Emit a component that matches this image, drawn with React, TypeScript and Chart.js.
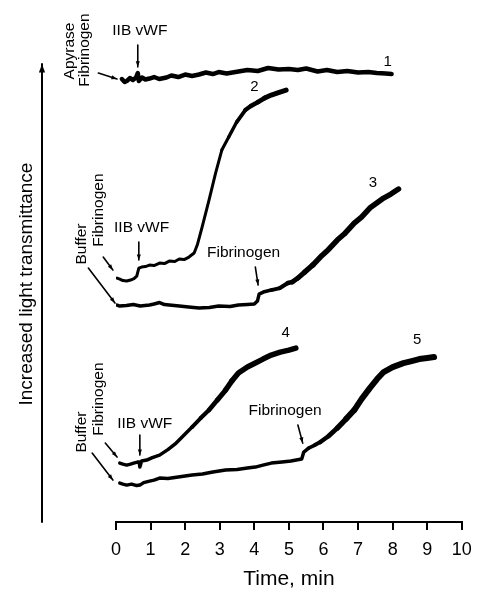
import React, { useEffect, useRef } from "react";
import { Chart, registerables } from "chart.js";

Chart.register(...registerables);

const FONT = '"Liberation Sans", Arial, Helvetica, sans-serif';

// Time (min) axis ticks
const xTicks = [0, 1, 2, 3, 4, 5, 6, 7, 8, 9, 10];

// Trace 1 : Apyrase + Fibrinogen, then IIB vWF
const t1 = [0.17, 0.25, 0.31, 0.4, 0.49, 0.58, 0.63, 0.66, 0.75, 0.85, 0.97, 1.1, 1.25, 1.46, 1.6, 1.8, 2.0, 2.2, 2.4, 2.6, 2.8, 2.97, 3.2, 3.54, 3.8, 4.1, 4.4, 4.7, 5.0, 5.26, 5.5, 5.83, 6.1, 6.4, 6.69, 7.0, 7.3, 7.54, 7.8, 7.97];
const y1 = [88.6, 88.0, 88.2, 88.8, 88.4, 88.9, 89.8, 88.2, 88.9, 88.5, 88.7, 89.0, 88.6, 88.9, 89.3, 89.0, 89.5, 89.2, 89.5, 89.9, 89.6, 90.0, 89.7, 90.1, 90.4, 90.2, 90.8, 90.5, 90.6, 90.4, 90.7, 90.1, 90.4, 90.0, 90.2, 89.9, 90.0, 89.8, 89.7, 89.6];

// Trace 2 : Buffer + Fibrinogen, then IIB vWF
const t2 = [0.03, 0.11, 0.2, 0.31, 0.42, 0.52, 0.6, 0.66, 0.74, 0.85, 0.97, 1.1, 1.26, 1.4, 1.54, 1.7, 1.83, 1.97, 2.11, 2.26, 2.35, 2.49, 2.69, 2.88, 3.06, 3.26, 3.49, 3.74, 3.9, 4.11, 4.3, 4.49, 4.7, 4.92];
const y2 = [48.8, 48.6, 48.3, 48.2, 48.4, 48.7, 49.2, 50.8, 51.0, 51.1, 51.4, 51.3, 51.8, 51.7, 52.2, 52.1, 52.6, 52.5, 53.0, 53.8, 55.4, 59.0, 64.4, 69.8, 74.4, 77.0, 80.0, 82.4, 83.2, 84.0, 84.8, 85.4, 85.9, 86.4];

// Trace 3 : Buffer, then Fibrinogen at ~4 min
const t3 = [0.03, 0.11, 0.3, 0.5, 0.7, 0.97, 1.1, 1.26, 1.4, 1.54, 1.83, 2.1, 2.4, 2.7, 2.97, 3.3, 3.54, 3.8, 4.0, 4.09, 4.14, 4.26, 4.49, 4.74, 4.97, 5.1, 5.26, 5.46, 5.69, 5.91, 6.1, 6.4, 6.6, 6.89, 7.1, 7.34, 7.5, 7.74, 7.95, 8.17];
const y3 = [43.4, 43.2, 43.3, 43.5, 43.2, 43.4, 43.6, 43.9, 43.5, 43.4, 43.2, 43.0, 42.8, 42.9, 43.2, 43.1, 43.4, 43.5, 43.6, 44.2, 45.6, 46.0, 46.4, 46.8, 47.8, 48.0, 48.8, 50.0, 51.4, 53.0, 54.2, 56.4, 57.6, 59.8, 61.0, 62.8, 63.6, 64.8, 65.6, 66.6];

// Trace 4 : Buffer + Fibrinogen, then IIB vWF
const t4 = [0.11, 0.2, 0.31, 0.42, 0.51, 0.62, 0.67, 0.69, 0.74, 0.89, 1.05, 1.26, 1.5, 1.74, 1.97, 2.2, 2.45, 2.69, 2.93, 3.17, 3.35, 3.54, 3.8, 4.03, 4.25, 4.49, 4.75, 5.0, 5.2];
const y4 = [11.8, 11.6, 11.4, 11.6, 11.8, 12.0, 12.0, 11.0, 12.2, 12.4, 12.9, 13.4, 14.5, 15.8, 17.4, 19.0, 20.8, 22.4, 24.4, 26.4, 28.2, 29.8, 31.0, 31.8, 32.6, 33.4, 34.0, 34.4, 34.8];

// Trace 5 : Buffer, then Fibrinogen at ~5.4 min
const t5 = [0.11, 0.2, 0.31, 0.45, 0.6, 0.69, 0.8, 0.97, 1.1, 1.26, 1.5, 1.8, 2.2, 2.5, 2.8, 3.17, 3.5, 3.8, 4.03, 4.25, 4.49, 4.8, 5.06, 5.37, 5.43, 5.57, 5.75, 5.91, 6.15, 6.4, 6.65, 6.89, 7.1, 7.34, 7.55, 7.74, 8.0, 8.31, 8.55, 8.77, 9.0, 9.2];
const y5 = [7.8, 7.6, 7.4, 7.6, 7.3, 7.4, 7.9, 8.2, 8.4, 8.8, 8.7, 9.0, 9.4, 9.6, 10.0, 10.4, 10.5, 10.8, 11.0, 11.4, 11.8, 12.0, 12.2, 12.6, 14.0, 14.8, 15.4, 16.0, 17.2, 18.8, 20.6, 22.4, 24.6, 26.8, 28.6, 30.0, 31.0, 31.8, 32.2, 32.6, 32.8, 33.0];

// Text annotations: label, time, value, rotated
const noteLabels = ["Apyrase", "Fibrinogen", "IIB vWF", "1", "2", "3", "Buffer", "Fibrinogen", "IIB vWF", "Fibrinogen", "4", "5", "Buffer", "Fibrinogen", "IIB vWF", "Fibrinogen"];
const noteT = [-1.34, -0.91, 0.69, 7.86, 4.0, 7.43, -1.0, -0.49, 0.74, 3.69, 4.91, 8.71, -1.0, -0.49, 0.83, 4.89];
const noteY = [94.2, 94.4, 98.2, 92.0, 87.0, 67.8, 55.6, 62.4, 58.8, 53.8, 37.8, 36.4, 18.0, 24.6, 19.6, 22.2];
const noteRot = [true, true, false, false, false, false, true, true, false, false, false, false, true, true, false, false];

// Arrows: from (t, value) to (t, value)
const arrowT1 = [-0.51, 0.63, -0.37, -0.8, 0.66, 4.03, -0.31, -0.69, 0.69, 5.26];
const arrowY1 = [89.8, 95.4, 53.0, 50.8, 56.0, 51.0, 15.8, 13.8, 17.4, 19.4];
const arrowT2 = [0.03, 0.63, -0.09, -0.03, 0.66, 4.11, 0.03, -0.09, 0.69, 5.4];
const arrowY2 = [88.6, 91.0, 50.4, 43.8, 52.4, 47.4, 13.0, 8.4, 13.4, 15.8];

const yAxisLabel = "Increased light transmittance";

// line weight: thin before `from`, growing to heavier (noisy) trace after
const series = [
  { t: t1, y: y1, thin: 4.5, thick: 4.5, from: 0 },
  { t: t2, y: y2, thin: 3, thick: 5, from: 3.0 },
  { t: t3, y: y3, thin: 3.5, thick: 5.5, from: 4.3 },
  { t: t4, y: y4, thin: 3.5, thick: 5.5, from: 2.0 },
  { t: t5, y: y5, thin: 3.5, thick: 6, from: 5.5 },
];

function drawArrow(ctx: CanvasRenderingContext2D, x1: number, y1: number, x2: number, y2: number, head: number) {
  ctx.beginPath();
  ctx.moveTo(x1, y1);
  ctx.lineTo(x2, y2);
  ctx.stroke();
  const a = Math.atan2(y2 - y1, x2 - x1);
  ctx.beginPath();
  ctx.moveTo(x2, y2);
  ctx.lineTo(x2 - head * Math.cos(a - 0.35), y2 - head * Math.sin(a - 0.35));
  ctx.lineTo(x2 - head * Math.cos(a + 0.35), y2 - head * Math.sin(a + 0.35));
  ctx.closePath();
  ctx.fill();
}

const annotPlugin = {
  id: "annot",
  afterDatasetsDraw(chart: any) {
    const { ctx, scales } = chart;
    const xs = scales.x;
    const ys = scales.y;
    ctx.save();
    ctx.fillStyle = "#000";
    ctx.strokeStyle = "#000";
    ctx.lineCap = "round";

    // arrows
    ctx.lineWidth = 1.6;
    for (let i = 0; i < arrowT1.length; i++) {
      drawArrow(
        ctx,
        xs.getPixelForValue(arrowT1[i]),
        ys.getPixelForValue(arrowY1[i]),
        xs.getPixelForValue(arrowT2[i]),
        ys.getPixelForValue(arrowY2[i]),
        6
      );
    }

    // text notes
    for (let i = 0; i < noteLabels.length; i++) {
      const px = xs.getPixelForValue(noteT[i]);
      const py = ys.getPixelForValue(noteY[i]);
      const isNum = /^\d$/.test(noteLabels[i]);
      ctx.font = (isNum ? "15px " : "15.5px ") + FONT;
      ctx.textAlign = "center";
      ctx.textBaseline = "middle";
      ctx.save();
      ctx.translate(px, py);
      if (noteRot[i]) ctx.rotate(-Math.PI / 2);
      ctx.fillText(noteLabels[i], 0, 0);
      ctx.restore();
    }

    // y "axis" arrow
    const ax = xs.getPixelForValue(-2.14);
    ctx.lineWidth = 2;
    drawArrow(ctx, ax, ys.getPixelForValue(0), ax, ys.getPixelForValue(91.6), 9);

    // y label
    ctx.font = "19px " + FONT;
    ctx.textAlign = "center";
    ctx.textBaseline = "alphabetic";
    ctx.save();
    ctx.translate(xs.getPixelForValue(-2.43), ys.getPixelForValue(47.6));
    ctx.rotate(-Math.PI / 2);
    ctx.fillText(yAxisLabel, 0, 0);
    ctx.restore();

    ctx.restore();
  },
};

export default function App() {
  const canvasRef = useRef<HTMLCanvasElement | null>(null);

  useEffect(() => {
    if (!canvasRef.current) return;
    const chart = new Chart(canvasRef.current, {
      type: "line",
      data: {
        datasets: series.map((s) => ({
          data: s.t.map((t, i) => ({ x: t, y: s.y[i] })),
          borderColor: "#000",
          borderWidth: s.thin,
          pointRadius: 0,
          tension: 0,
          fill: false,
          borderJoinStyle: "round" as const,
          borderCapStyle: "round" as const,
          segment: {
            borderWidth: (ctx: any) => {
              const f = Math.max(0, Math.min(1, (ctx.p0.parsed.x - s.from) / 1.2));
              return s.thin + (s.thick - s.thin) * f;
            },
          },
        })),
      },
      options: {
        animation: false,
        responsive: true,
        maintainAspectRatio: false,
        layout: { padding: { left: 116, right: 15, top: 22, bottom: 0 } },
        plugins: { legend: { display: false }, tooltip: { enabled: false } },
        scales: {
          x: {
            type: "linear",
            min: 0,
            max: 10,
            afterBuildTicks: (axis: any) => {
              axis.ticks = xTicks.map((v) => ({ value: v }));
            },
            ticks: {
              color: "#000",
              font: { size: 18, family: FONT, lineHeight: 1.2 },
              padding: 9.2,
              maxRotation: 0,
              autoSkip: false,
            },
            grid: {
              display: true,
              drawOnChartArea: false,
              drawTicks: true,
              tickLength: 8,
              color: "#000",
              lineWidth: 2,
            },
            border: { display: true, color: "#000", width: 2 },
            title: {
              display: true,
              text: "Time, min",
              color: "#000",
              font: { size: 21, family: FONT, lineHeight: 0.9 },
              padding: { top: 0, bottom: 0 },
            },
          },
          y: { display: false, min: 0, max: 100 },
        },
      },
      plugins: [annotPlugin],
    });
    return () => chart.destroy();
  }, []);

  return (
    <div style={{ position: "fixed", left: 0, top: 0, width: 481, height: 589, background: "#fff" }}>
      <canvas ref={canvasRef} />
    </div>
  );
}
